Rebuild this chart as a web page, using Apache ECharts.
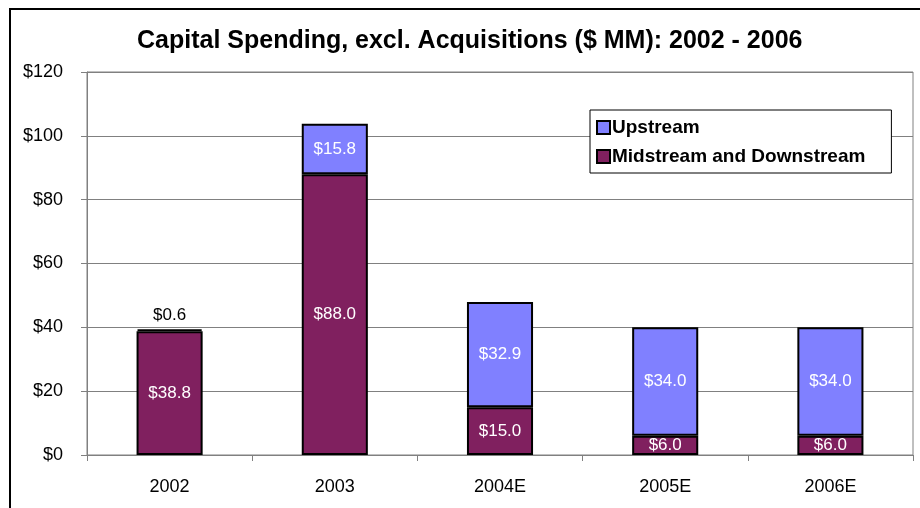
<!DOCTYPE html>
<html>
<head>
<meta charset="utf-8">
<script src="https://cdn.jsdelivr.net/npm/echarts@6/dist/echarts.min.js"></script>
<style>
  html, body { margin: 0; padding: 0; background: #fff; }
  #main { width: 920px; height: 508px; }
</style>
</head>
<body>
<div id="main"></div>
<script>
// chart data
var years = ['2002', '2003', '2004E', '2005E', '2006E'];
var midstream = [38.8, 88.0, 15.0, 6.0, 6.0];
var upstream = [0.6, 15.8, 32.9, 34.0, 34.0];
var yTicks = [0, 20, 40, 60, 80, 100, 120];

var font = 'Liberation Sans, Arial, sans-serif';

var chart = echarts.init(document.getElementById('main'));

function money(v) {
    return '$' + v.toFixed(1);
}

var upData = upstream.map(function (v, i) {
    // the tiny 2002 slice gets its label above the bar
    if (i === 0) {
        return { value: v, label: { position: 'top', color: '#000', distance: 5 } };
    }
    return v;
});

var option = {
    animation: false,
    textStyle: { fontFamily: font },
    graphic: [{
        type: 'rect',
        shape: { x: 10, y: 9, width: 1000, height: 1000 },
        style: { fill: 'none', stroke: '#000', lineWidth: 2 },
        silent: true
    }],
    title: {
        text: 'Capital Spending, excl. Acquisitions ($ MM): 2002 - 2006',
        left: 132,
        top: 24,
        textStyle: { fontFamily: font, fontSize: 25, fontWeight: 'bold', color: '#000' }
    },
    legend: {
        orient: 'vertical',
        left: 590,
        top: 110,
        data: ['Upstream', 'Midstream and Downstream'],
        backgroundColor: '#fff',
        borderColor: '#000',
        borderWidth: 1,
        padding: [8, 26, 7, 6],
        itemGap: 10,
        itemWidth: 13,
        itemHeight: 13,
        icon: 'rect',
        textStyle: { fontFamily: font, fontSize: 19, fontWeight: 'bold', color: '#000', padding: [0, 0, 0, -3] }
    },
    grid: {
        left: 87,
        right: 7,
        top: 72,
        bottom: 53,
        show: true,
        borderColor: '#808080',
        borderWidth: 1
    },
    xAxis: {
        type: 'category',
        data: years,
        axisLine: { lineStyle: { color: '#808080', width: 1 } },
        axisTick: { show: true, length: 6, lineStyle: { color: '#808080' } },
        axisLabel: { fontFamily: font, fontSize: 18, color: '#000', margin: 23 }
    },
    yAxis: {
        type: 'value',
        min: yTicks[0],
        max: yTicks[yTicks.length - 1],
        interval: 20,
        axisLine: { show: true, lineStyle: { color: '#808080', width: 1 } },
        axisTick: { show: true, length: 6, lineStyle: { color: '#808080' } },
        splitLine: { lineStyle: { color: '#808080', width: 1 } },
        axisLabel: {
            fontFamily: font, fontSize: 18, color: '#000', margin: 24,
            formatter: function (v) { return '$' + v; }
        }
    },
    series: [
        {
            name: 'Midstream and Downstream',
            type: 'bar',
            stack: 'total',
            barWidth: '40%',
            data: midstream,
            itemStyle: { color: '#80205F', borderColor: '#000', borderWidth: 2 },
            label: {
                show: true,
                position: 'inside',
                color: '#fff',
                fontFamily: font,
                fontSize: 17,
                formatter: function (p) { return money(p.value); }
            }
        },
        {
            name: 'Upstream',
            type: 'bar',
            stack: 'total',
            barWidth: '40%',
            data: upData,
            itemStyle: { color: '#8080FF', borderColor: '#000', borderWidth: 2 },
            label: {
                show: true,
                position: 'inside',
                color: '#fff',
                fontFamily: font,
                fontSize: 17,
                formatter: function (p) { return money(p.value); }
            }
        }
    ]
};

chart.setOption(option);
</script>
</body>
</html>
